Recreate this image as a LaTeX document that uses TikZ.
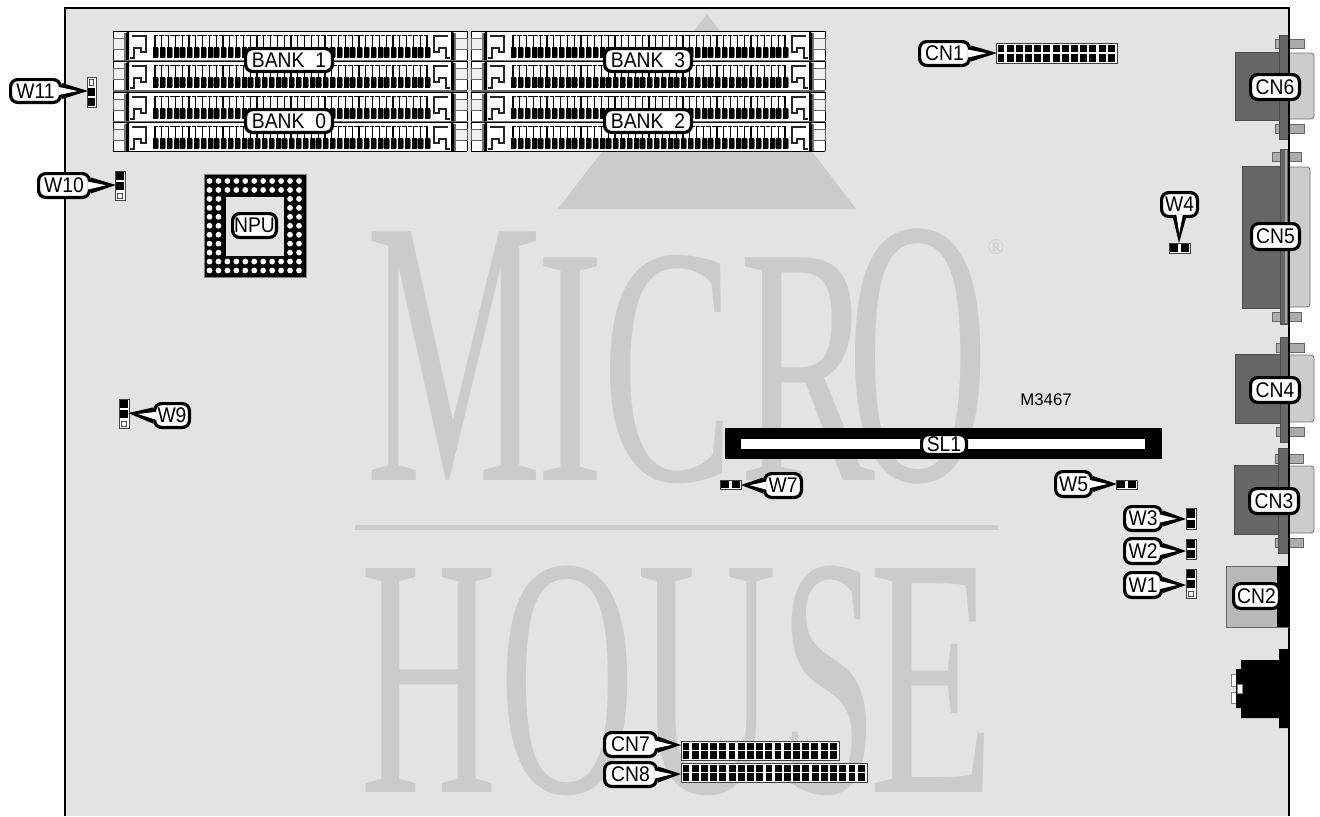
\documentclass[tikz,border=0pt]{standalone}
\usepackage{fontspec}
\usepackage{graphicx}
\setmainfont{Liberation Sans}
\newfontfamily\wmfont{Liberation Serif}
\usetikzlibrary{calc}
\definecolor{boardbg}{HTML}{E3E3E3}
\definecolor{wm}{HTML}{CBCBCB}
\definecolor{dkbody}{HTML}{666666}
\definecolor{ltbody}{HTML}{CCCCCC}
\definecolor{screwc}{HTML}{ABABAB}
\tikzset{
  lblbox/.style={draw=black,line width=1.6pt,fill=white,rounded corners=3.5pt,inner sep=0pt,font=\fontsize{10.6}{11}\selectfont,text=black},
  conn/.style={line width=.4pt,draw=black!75},
  wmtext/.style={text=wm,inner sep=0pt,anchor=base west,font=\wmfont}
}
% one watermark letter: offset, size, x-scale, letter
\newcommand\wl[4]{\rlap{\hspace*{#1pt}\scalebox{#3}[1]{\fontsize{#2}{#2}\selectfont #4}}}
% label: name x1 y1 x2 y2 text
\newcommand\lblnode[6]{%
  \pgfmathsetmacro\lw{(#4-#2)*.5-1.6}\pgfmathsetmacro\lh{(#5-#3)*.5-1.6}%
  \node[lblbox,minimum width=\lw pt,minimum height=\lh pt] (#1) at ({(#2+#4)/2},{(#3+#5)/2}) {\scalebox{.91}[1]{#6}};}
% pointer: anchor, tip, half-base dx dy
\newcommand\ptr[4]{%
  \fill[black] ($(#1)+(#3,#4)$) -- (#2) -- ($(#1)-(#3,#4)$) -- cycle;
  \fill[white] ($(#1)!-1.6pt!(#2)+.5*(#3,#4)$) -- ($(#1)!.6!(#2)$) -- ($(#1)!-1.6pt!(#2)-.5*(#3,#4)$) -- cycle;}
% pin header
\newcommand\pinhead[5]{%
  \draw[conn,fill=white] (#1,#2) rectangle (#3,#4);
  \pgfmathsetmacro\pp{(#3-#1-1.5)/#5}\pgfmathsetmacro\rr{(#4-#2)/2}%
  \pgfmathtruncatemacro\nn{#5-1}%
  \foreach \i in {0,...,\nn}{
    \fill[black] ({#1+1.5+\i*\pp},{#2+1.5}) rectangle ++({\pp-2.3},{\rr-2.2});
    \fill[black] ({#1+1.5+\i*\pp},{#2+\rr+.8}) rectangle ++({\pp-2.3},{\rr-2.2});
  }}
% jumper cell
\newcommand\jcell[5]{% x1 y1 x2 y2 kind
  \ifx#5b\fill[black] (#1+1.2,#2+1) rectangle (#3-1.2,#4-.6);\else\draw[line width=.4pt,draw=black!70] (#1+2.2,#2+2) rectangle (#3-2.2,#4-1.5);\fi}
% one memory strip
\newcommand\latchend{%
  \draw[line width=.4pt,draw=black!60,fill=black!6] (0,7) rectangle (12,18);
  \fill[black!55] (11,2) rectangle (13,29);
  \fill[black] (13,2) -- (16,0) -- (16,29) -- (13,29) -- cycle;
  \draw[line width=.6pt,draw=black!85] (19,5) -- (33,5) -- (33,21) -- (28,21) -- (28,17) -- (21,17) -- (21,27) -- (17,27);
}
\newcommand\memstrip[4]{% x y barcolor barwidth
  \begin{scope}[shift={(#1,#2)}]
    \fill[white] (0,0) rectangle (354,29);
    \draw[line width=.5pt,draw=black] (0,29) -- (0,0) -- (354,0) -- (354,29);
    \fill[#3] (0,29) rectangle (354,{29+#4});
    \latchend
    \begin{scope}[shift={(354,0)},xscale=-1]\latchend\end{scope}
    \draw[line width=.5pt,draw=black,dash pattern=on 2.2pt off .5pt] (41,4) -- (316,4);
    \foreach \t in {0,...,40}{
      \pgfmathsetmacro\tx{42+\t*6.8}
      \draw[line width=.6pt,draw=black] (\tx,4) -- (\tx,16);
      \fill[black] ({\tx-1.8},15.5) rectangle ({\tx+3.2},26.5);
      \fill[black!55] ({\tx+3.2},17) rectangle ({\tx+4.2},26);
    }
  \end{scope}}
% D-sub connector: body x1, y1, y2, flange x1, y1, y2, light right, screw data
\newcommand\dsub[8]{%
  \fill[ltbody,rounded corners=1.5pt] (1280,#2+1) -- (#7,#2+1) -- (#7,#3-1) -- (1280,#3-1) -- cycle;
  \draw[line width=.4pt,draw=black!55,rounded corners=1.5pt] (1288,#2+1) -- (#7,#2+1) -- (#7,#3-1) -- (1288,#3-1);
  \draw[line width=.4pt,draw=black!70,fill=dkbody] (#1,#2) rectangle (1288,#3);
  \screwpair#8;
  \draw[line width=.4pt,draw=black!70,fill=dkbody] (#4,#5) rectangle (1288,#6);}
\def\screwpair#1,#2,#3,#4;{%
  \draw[line width=.4pt,draw=black!60,fill=screwc] (#1,#3) rectangle (#2,#3+9);
  \draw[line width=.4pt,draw=black!60,fill=screwc] (#1,#4) rectangle (#2,#4+9);}
\begin{document}
\begin{tikzpicture}[x=.5pt,y=-.5pt]
\useasboundingbox (0,0) rectangle (1320,816);
\fill[white] (0,0) rectangle (1320,816);
% board
\fill[boardbg] (65,8) rectangle (1288,816);
% watermark
\begin{scope}
\clip (65,8) rectangle (1288,816);
\fill[wm] (707,14) -- (856,209) -- (558,209) -- cycle;
\node[wmtext] (wmA) at (360,480) {\wl{2.3}{190}{.52}{M}\wl{87.5}{170}{.60}{I}\wl{120.7}{170}{.58}{C}\wl{188.8}{170}{.60}{R}\wl{243.2}{190}{.515}{O}};
\fill[wm] (355,524.5) rectangle (998,529.5);
\node[wmtext] (wmB) at (360,792) {\wl{-.3}{171}{.555}{H}\wl{68.8}{171}{.55}{O}\wl{137.8}{171}{.565}{U}\wl{209.3}{171}{.51}{S}\wl{254}{171}{.6}{E}};
\node[text=wm,inner sep=0pt,font=\wmfont\fontsize{11}{11}\selectfont] (wmR) at (996,247) {®};
\end{scope}
\draw[line width=1pt,draw=black] (65,816) -- (65,8) -- (1288.5,8) -- (1288.5,816);
% memory
\foreach \gx in {113,471}{
  \memstrip{\gx}{31}{black!55}{1.5}
  \memstrip{\gx}{61}{black!60}{2.5}
  \memstrip{\gx}{92}{black!55}{1.5}
  \memstrip{\gx}{122}{black}{.6}
}
% NPU
\fill[black] (204,174) rectangle (306,277);
\draw[line width=.5pt,draw=black!50] (204,174) rectangle (306,277);
\foreach \i in {0,...,10}{\foreach \j in {0,...,10}{
  \pgfmathparse{(\i>1 && \i<9 && \j>1 && \j<9) ? 0 : 1}
  \ifnum\pgfmathresult=1
    \fill[white] ({209.5+\i*8.95},{181+\j*8.95}) circle[radius=2.9];
  \fi
}}
\fill[boardbg] (226,197) rectangle (284,256);
% slot
\fill[black] (725,428) rectangle (1162,459);
\fill[white] (741,439) rectangle (1145,449);
% headers
\pinhead{996}{43}{1117}{63}{13}
\pinhead{681}{741}{839}{760}{17}
\pinhead{681}{763}{867}{782}{20}
% jumpers
\draw[conn,fill=white] (87,77) rectangle (96,107);
\jcell{87}{77}{96}{87}{w}\jcell{87}{87}{96}{97}{b}\jcell{87}{97}{96}{107}{b}
\draw[conn,fill=white] (115,171) rectangle (125,200);
\jcell{115}{171}{125}{181}{b}\jcell{115}{181}{125}{191}{b}\jcell{115}{191}{125}{200}{w}
\draw[conn,fill=white] (119,399) rectangle (129,428);
\jcell{119}{399}{129}{409}{b}\jcell{119}{409}{129}{419}{b}\jcell{119}{419}{129}{428}{w}
\draw[conn,fill=white] (1169,243) rectangle (1190,253);
\jcell{1169}{243}{1179.5}{253}{b}\jcell{1179.5}{243}{1190}{253}{b}
\draw[conn,fill=white] (720,480) rectangle (741,489);
\jcell{720}{480}{730.5}{489}{b}\jcell{730.5}{480}{741}{489}{b}
\draw[conn,fill=white] (1116,480) rectangle (1137,489);
\jcell{1116}{480}{1126.5}{489}{b}\jcell{1126.5}{480}{1137}{489}{b}
\draw[conn,fill=white] (1186,508) rectangle (1196,529);
\jcell{1186}{508}{1196}{518.5}{b}\jcell{1186}{518.5}{1196}{529}{b}
\draw[conn,fill=white] (1186,539) rectangle (1196,559);
\jcell{1186}{539}{1196}{549}{b}\jcell{1186}{549}{1196}{559}{b}
\draw[conn,fill=white] (1186,569) rectangle (1196,598);
\jcell{1186}{569}{1196}{579}{b}\jcell{1186}{579}{1196}{589}{b}\jcell{1186}{589}{1196}{598}{w}
% D-subs
\dsub{1235}{52}{120}{1279}{35}{139}{1314}{1275,1304,39,124}
\dsub{1242}{166}{308}{1280}{149}{324}{1310}{1272,1301,152,312}
\fill[black!35] (1284.5,150) rectangle (1286.5,323);
\dsub{1235}{354}{423}{1280}{337}{442}{1314}{1276,1304,343,427}
\dsub{1234}{465}{534}{1278}{448}{553}{1314}{1275,1303,454,538}
\draw[line width=1pt,draw=black] (1288.5,8) -- (1288.5,816);
% CN2
\draw[line width=.4pt,draw=black!60,fill=black!28] (1226,566) rectangle (1288,627);
\fill[black] (1277,566) rectangle (1289,627);
% mini-DIN
\draw[line width=.4pt,draw=black!50,fill=white] (1231,674) rectangle (1238,686);
\draw[line width=.4pt,draw=black!50,fill=white] (1231,692) rectangle (1238,703);
\fill[black] (1289,649) -- (1279,649) -- (1279,660) -- (1241,660) -- (1241,669) -- (1236,669) -- (1236,708) -- (1241,708) -- (1241,718) -- (1279,718) -- (1279,728) -- (1289,728) -- cycle;
\draw[line width=.4pt,draw=black!50,fill=white] (1237,684) rectangle (1242,693);
% M3467
\node[inner sep=0pt,font=\fontsize{8.4}{9}\selectfont] (mlabel) at (1046,400) {M3467};
% labels
\lblnode{B1}{244}{47}{334}{73}{BANK\hspace{3pt} 1}
\lblnode{B0}{244}{108}{334}{134}{BANK\hspace{3pt} 0}
\lblnode{B3}{603}{47}{693}{73}{BANK\hspace{3pt} 3}
\lblnode{B2}{603}{108}{693}{134}{BANK\hspace{3pt} 2}
\lblnode{NPU}{231}{212}{278}{239}{NPU}
\lblnode{SL}{920}{433}{968}{456}{SL1}
\lblnode{C6}{1249}{73}{1301}{101}{CN6}
\lblnode{C5}{1250}{222}{1301}{251}{CN5}
\lblnode{C4}{1249}{376}{1301}{404}{CN4}
\lblnode{C3}{1248}{487}{1300}{515}{CN3}
\lblnode{C2}{1232}{582}{1281}{610}{CN2}
\lblnode{W11}{9}{78}{62}{104}{W11}
\coordinate (W11t) at (88,91); \ptr{W11.east}{W11t}{0}{8}
\lblnode{W10}{37}{172}{91}{199}{W10}
\coordinate (W10t) at (116,185); \ptr{W10.east}{W10t}{0}{8}
\lblnode{W9}{153}{402}{191}{429}{W9}
\coordinate (W9t) at (128,413); \ptr{W9.west}{W9t}{0}{8}
\lblnode{C1}{918}{40}{971}{67}{CN1}
\coordinate (C1t) at (997,53); \ptr{C1.east}{C1t}{0}{8}
\lblnode{W4}{1160}{191}{1199}{218}{W4}
\coordinate (W4t) at (1179,243); \ptr{W4.south}{W4t}{6.5}{0}
\lblnode{W7}{763}{472}{803}{499}{W7}
\coordinate (W7t) at (741,485); \ptr{W7.west}{W7t}{0}{8}
\lblnode{W5}{1054}{470}{1093}{498}{W5}
\coordinate (W5t) at (1117,484); \ptr{W5.east}{W5t}{0}{8}
\lblnode{W3}{1123}{505}{1163}{532}{W3}
\coordinate (W3t) at (1186,519); \ptr{W3.east}{W3t}{0}{8}
\lblnode{W2}{1123}{537}{1163}{565}{W2}
\coordinate (W2t) at (1186,551); \ptr{W2.east}{W2t}{0}{8}
\lblnode{W1}{1123}{571}{1163}{599}{W1}
\coordinate (W1t) at (1186,585); \ptr{W1.east}{W1t}{0}{8}
\lblnode{C7}{603}{731}{658}{758}{CN7}
\coordinate (C7t) at (681,745); \ptr{C7.east}{C7t}{0}{8}
\lblnode{C8}{603}{761}{658}{788}{CN8}
\coordinate (C8t) at (681,774); \ptr{C8.east}{C8t}{0}{8}
\end{tikzpicture}
\end{document}
